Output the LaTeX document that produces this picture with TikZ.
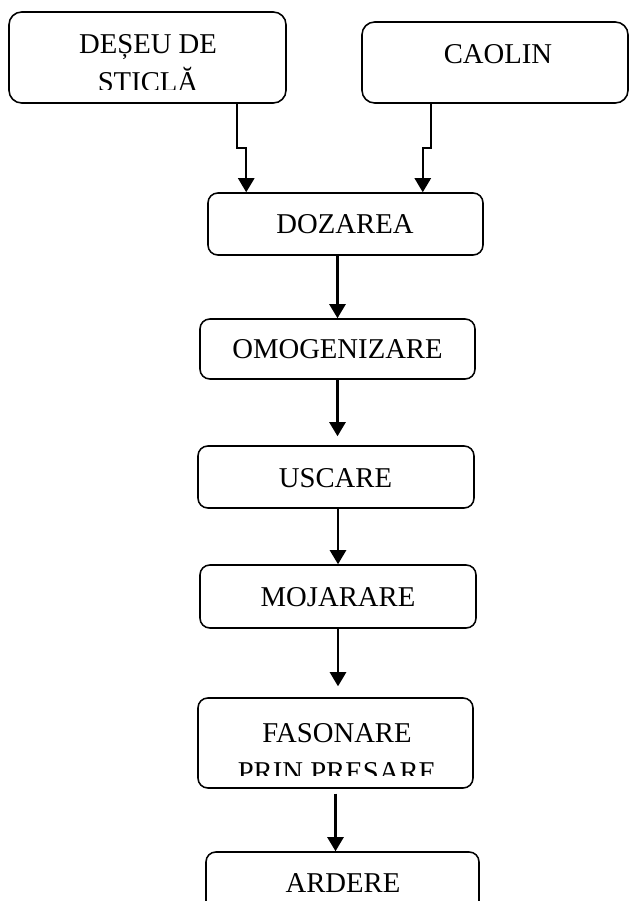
\documentclass[tikz,border=0pt]{standalone}
\usepackage{fontspec}
\setmainfont{Liberation Serif}
\usetikzlibrary{arrows.meta,calc}

\begin{document}
\begin{tikzpicture}[x=0.025cm, y=-0.025cm,
        box/.style={draw, line width=1.1pt, rounded corners=7pt, inner sep=0pt},
        bigbox/.style={box, rounded corners=9pt},
        txt/.style={anchor=base, inner sep=0pt, font=\fontsize{20.4}{24}\selectfont},
        flow/.style={line width=1.5pt, -{Triangle[length=10pt, width=11.5pt]}}]
        \useasboundingbox (0,0) rectangle (630,901);
        \clip (0,0) rectangle (630,901);

        % raw materials
        \node[bigbox, minimum width=277*0.025cm, minimum height=91*0.025cm] (sticla) at (147.5,57.5) {};
        \node[bigbox, minimum width=266*0.025cm, minimum height=81*0.025cm] (caolin) at (495,62.5) {};

        % process steps
        \node[box, minimum width=275*0.025cm, minimum height=62*0.025cm] (dozare) at (345.5,224) {};
        \node[box, minimum width=275*0.025cm, minimum height=60*0.025cm] (omogen) at (337.5,349) {};
        \node[box, minimum width=276*0.025cm, minimum height=62*0.025cm] (uscare) at (336,477) {};
        \node[box, minimum width=276*0.025cm, minimum height=63*0.025cm] (mojarare) at (338,596.5) {};
        \node[box, minimum width=275*0.025cm, minimum height=90*0.025cm] (fasonare) at (335.5,743) {};
        \node[box, minimum width=273*0.025cm, minimum height=70*0.025cm] (ardere) at (342.5,887) {};

        % labels
        \node[txt] (sticla-a) at (148,53) {DEȘEU DE};
        \begin{scope}
            \clip (0,0) rectangle (630,89);
            \node[txt] (sticla-b) at (148,91) {STICLĂ};
        \end{scope}
        \node[txt] (caolin-t) at (498,63) {CAOLIN};
        \node[txt] (dozare-t) at (345,233) {DOZAREA};
        \node[txt] (omogen-t) at (337.5,358) {OMOGENIZARE};
        \node[txt] (uscare-t) at (335.5,487) {USCARE};
        \node[txt] (mojarare-t) at (338,606) {MOJARARE};
        \node[txt] (fasonare-a) at (337,742) {FASONARE};
        \begin{scope}
            \clip (0,700) rectangle (630,775);
            \node[txt] (fasonare-b) at (337,781) {PRIN PRESARE};
        \end{scope}
        \node[txt] (ardere-t) at (343,892) {ARDERE};

        % feed lines into dosing
        \draw[flow] ($(sticla.south)+(89.5,0)$) -- ++(0,44) -| ($(dozare.north west)+(39,0)$);
        \draw[flow] ($(caolin.south)+(-64,0)$) -- ++(0,44) -| ($(dozare.north east)+(-61,0)$);

        % main line
        \draw[flow] (dozare.south -| omogen.north) -- (omogen.north);
        \draw[flow, shorten >=6.4pt] (omogen.south) -- (omogen.south |- uscare.north);
        \draw[flow] (uscare.south -| mojarare.north) -- (mojarare.north);
        \draw[flow, shorten >=7.8pt] (mojarare.south) -- (mojarare.south |- fasonare.north);
        \draw[flow, shorten <=3.5pt] (fasonare.south) -- (fasonare.south |- ardere.north);
    \end{tikzpicture}
\end{document}
